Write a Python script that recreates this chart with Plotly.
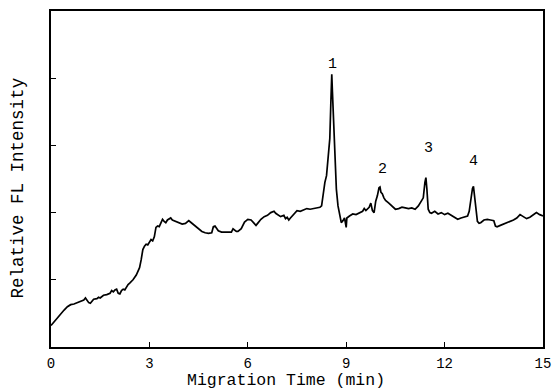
import plotly.graph_objects as go

time_min = [
    0.00, 0.10, 0.20, 0.30, 0.40, 0.50, 0.60, 0.70, 0.80, 0.90,
    1.00, 1.05, 1.10, 1.15, 1.20, 1.25, 1.30, 1.40, 1.45, 1.50,
    1.60, 1.70, 1.80, 1.85, 1.90, 1.95, 2.00, 2.05, 2.10, 2.15,
    2.20, 2.25, 2.30, 2.35, 2.40, 2.50, 2.60, 2.70, 2.75, 2.80,
    2.85, 2.90, 2.95, 3.00, 3.05, 3.10, 3.15, 3.20, 3.25, 3.30,
    3.35, 3.40, 3.45, 3.50, 3.55, 3.60, 3.65, 3.70, 3.75, 3.80,
    3.90, 4.00, 4.10, 4.20, 4.25, 4.30, 4.40, 4.50, 4.60, 4.70,
    4.80, 4.90, 4.95, 5.00, 5.05, 5.10, 5.20, 5.30, 5.40, 5.50,
    5.55, 5.60, 5.65, 5.70, 5.80, 5.90, 6.00, 6.10, 6.20, 6.25,
    6.30, 6.40, 6.50, 6.60, 6.70, 6.80, 6.85, 6.90, 7.00, 7.10,
    7.15, 7.20, 7.25, 7.30, 7.40, 7.50, 7.60, 7.70, 7.80, 7.90,
    8.00, 8.10, 8.20, 8.25, 8.30, 8.35, 8.40, 8.45, 8.50, 8.53,
    8.56, 8.58, 8.62, 8.66, 8.70, 8.75, 8.80, 8.85, 8.90, 8.95,
    9.00, 9.02, 9.10, 9.20, 9.30, 9.40, 9.50, 9.55, 9.60, 9.70,
    9.75, 9.80, 9.85, 9.90, 9.95, 10.00, 10.03, 10.06, 10.10, 10.15,
    10.20, 10.30, 10.40, 10.50, 10.60, 10.70, 10.80, 10.90, 11.00, 11.10,
    11.20, 11.25, 11.30, 11.35, 11.40, 11.43, 11.46, 11.50, 11.55, 11.60,
    11.70, 11.80, 11.90, 12.00, 12.10, 12.20, 12.30, 12.40, 12.50, 12.60,
    12.70, 12.75, 12.80, 12.85, 12.88, 12.92, 12.96, 13.00, 13.05, 13.10,
    13.20, 13.30, 13.40, 13.50, 13.55, 13.60, 13.70, 13.80, 13.90, 14.00,
    14.10, 14.20, 14.30, 14.40, 14.50, 14.60, 14.70, 14.80, 14.90, 15.00,
]

fl_intensity = [
    0.32, 0.38, 0.44, 0.50, 0.55, 0.60, 0.63, 0.64, 0.66, 0.67,
    0.70, 0.73, 0.70, 0.66, 0.65, 0.69, 0.71, 0.72, 0.74, 0.73,
    0.77, 0.78, 0.80, 0.84, 0.82, 0.85, 0.86, 0.80, 0.79, 0.84,
    0.86, 0.85, 0.90, 0.93, 0.95, 1.00, 1.07, 1.18, 1.30, 1.45,
    1.50, 1.53, 1.52, 1.57, 1.60, 1.58, 1.64, 1.78, 1.80, 1.79,
    1.85, 1.90, 1.87, 1.85, 1.89, 1.91, 1.92, 1.89, 1.88, 1.87,
    1.86, 1.83, 1.84, 1.88, 1.86, 1.84, 1.80, 1.77, 1.72, 1.70,
    1.69, 1.70, 1.79, 1.80, 1.76, 1.73, 1.71, 1.71, 1.70, 1.71,
    1.76, 1.74, 1.72, 1.72, 1.76, 1.86, 1.90, 1.89, 1.84, 1.81,
    1.84, 1.90, 1.94, 1.96, 2.00, 2.02, 1.99, 1.97, 1.94, 1.96,
    1.91, 1.93, 1.89, 1.92, 1.98, 2.03, 2.02, 2.04, 2.06, 2.05,
    2.06, 2.07, 2.08, 2.10, 2.30, 2.45, 2.55, 2.80, 3.10, 3.60,
    4.06, 3.80, 3.20, 2.70, 2.35, 2.10, 1.95, 1.85, 1.88, 1.92,
    1.78, 1.92, 1.95, 1.98, 1.97, 2.00, 2.02, 2.06, 2.03, 2.08,
    2.14, 2.03, 2.00, 2.17, 2.25, 2.37, 2.38, 2.30, 2.28, 2.22,
    2.18, 2.14, 2.09, 2.05, 2.06, 2.08, 2.07, 2.06, 2.07, 2.05,
    2.10, 2.14, 2.20, 2.22, 2.45, 2.52, 2.35, 2.05, 2.00, 1.99,
    2.02, 1.98, 2.00, 1.97, 1.99, 1.96, 1.93, 1.90, 1.92, 1.94,
    1.95, 2.02, 2.20, 2.36, 2.39, 2.20, 1.98, 1.87, 1.84, 1.85,
    1.89, 1.90, 1.89, 1.88, 1.80, 1.79, 1.81, 1.83, 1.84, 1.86,
    1.89, 1.92, 1.97, 1.94, 1.91, 1.93, 1.96, 2.00, 1.97, 1.95,
]

peak_labels = ["1", "2", "3", "4"]
peak_label_x = [8.57, 10.11, 11.50, 12.88]
peak_label_y = [4.21, 2.64, 2.96, 2.76]

x_tick_vals = [0, 3, 6, 9, 12, 15]
y_tick_vals = [1, 2, 3, 4]

x_title = "Migration Time (min)"
y_title = "Relative FL Intensity"

FONT = "Liberation Mono, Courier New, monospace"

fig = go.Figure()
fig.add_trace(go.Scatter(
    x=time_min, y=fl_intensity, mode="lines",
    line=dict(color="black", width=1.7),
    showlegend=False, hoverinfo="skip",
))

for lab, lx, ly in zip(peak_labels, peak_label_x, peak_label_y):
    fig.add_annotation(x=lx, y=ly, text=lab, showarrow=False,
                       font=dict(family=FONT, size=15, color="black"))

# axis titles as annotations for exact placement
fig.add_annotation(xref="paper", yref="paper", x=0.478, y=0, yshift=-33,
                   xanchor="center", yanchor="middle", text=x_title, showarrow=False,
                   borderpad=0, font=dict(family=FONT, size=16.5, color="black"))
fig.add_annotation(xref="paper", yref="paper", x=0, y=0.472, xshift=-33,
                   xanchor="center", yanchor="middle", text=y_title, textangle=-90,
                   showarrow=False, font=dict(family=FONT, size=17.5, color="black"))

fig.update_layout(
    width=553, height=391,
    margin=dict(l=51, r=10, t=11, b=44),
    paper_bgcolor="white", plot_bgcolor="white",
    font=dict(family=FONT, color="black"),
    showlegend=False,
)
fig.update_xaxes(
    range=[0, 15], tickvals=x_tick_vals, ticktext=[str(v) for v in x_tick_vals],
    ticks="inside", ticklen=5, tickwidth=1, tickcolor="black",
    showline=True, linecolor="black", linewidth=1.5, mirror=True,
    showgrid=False, zeroline=False, automargin=False,
    tickfont=dict(family=FONT, size=14, color="black"),
    ticklabelstandoff=2,
)
fig.update_yaxes(
    range=[0, 5], tickvals=y_tick_vals, showticklabels=False,
    ticks="inside", ticklen=5, tickwidth=1, tickcolor="black",
    showline=True, linecolor="black", linewidth=1.5, mirror=True,
    showgrid=False, zeroline=False, automargin=False,
)

fig.write_html(
    "out.html",
    config={"displayModeBar": False},
    post_script="document.body.style.margin='0';document.body.style.overflow='hidden';",
)
